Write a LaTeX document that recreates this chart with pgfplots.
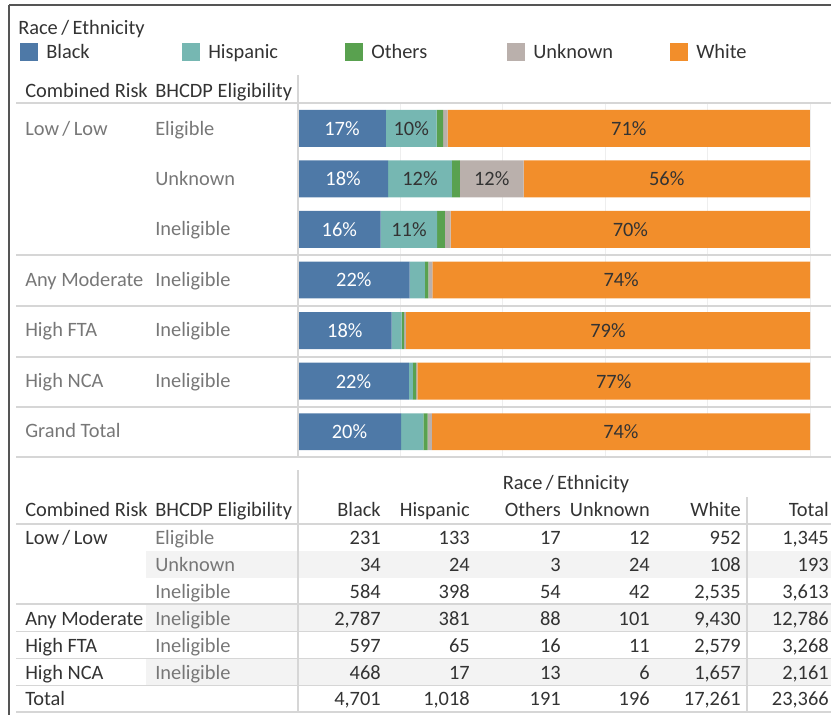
\documentclass[border=0pt]{standalone}
\usepackage{pgfplots}
\pgfplotsset{compat=1.18}
\usepackage{pgfplotstable}
\usepackage{fontspec}
\setmainfont{Carlito}
\definecolor{cBlack}{HTML}{4E79A7}
\definecolor{cHisp}{HTML}{76B7B2}
\definecolor{cOth}{HTML}{59A14F}
\definecolor{cUnk}{HTML}{BAB0AC}
\definecolor{cWhite}{HTML}{F28E2B}
\definecolor{txt}{HTML}{333333}
\definecolor{lbl}{HTML}{777777}
\definecolor{sep}{HTML}{D6D6D6}
\definecolor{gridc}{HTML}{EEEEEE}
\definecolor{band}{HTML}{F3F3F3}
\definecolor{frame}{HTML}{555555}
\newcommand\fs{\fontsize{15.3}{18}\selectfont}

% shares (percent of row total), from the counts in the table
\pgfplotstableread{
row Black Hispanic Others Unknown White
0 17.17 9.89 1.26 0.89 70.78
1 17.62 12.44 1.55 12.44 55.96
2 16.16 11.02 1.49 1.16 70.16
3 21.80 2.98 0.69 0.79 73.75
4 18.27 1.99 0.49 0.34 78.92
5 21.66 0.79 0.60 0.28 76.68
6 20.12 4.36 0.82 0.84 73.87
}\shares

\pgfplotstableread{
row mid pct
0 8.59 17
1 8.81 18
2 8.08 16
3 10.90 22
4 9.14 18
5 10.83 22
6 10.06 20
}\lblW

\pgfplotstableread{
row mid pct
0 22.12 10
0 64.61 71
1 23.83 12
1 37.83 12
1 72.02 56
2 21.67 11
2 64.92 70
3 63.12 74
4 60.54 79
5 61.66 77
6 63.06 74
}\lblD

\newcommand{\trow}[9]{%
  \node[anchor=base west, text=txt] at (25,#1) {#2};
  \node[anchor=base west, text=lbl] at (155,#1) {#3};
  \node[anchor=base east, text=txt] at (381,#1) {#4};
  \node[anchor=base east, text=txt] at (470,#1) {#5};
  \node[anchor=base east, text=txt] at (561,#1) {#6};
  \node[anchor=base east, text=txt] at (650,#1) {#7};
  \node[anchor=base east, text=txt] at (741,#1) {#8};
  \node[anchor=base east, text=txt] at (829,#1) {#9};
}

\begin{document}
\begin{tikzpicture}[font=\fs]
\begin{scope}[x=0.75pt, y=-0.75pt, every node/.style={inner sep=0pt}]
  % frame
  \draw[frame, line width=1.5pt] (9,5) -- (831,5);
  \draw[frame, line width=1.5pt] (9,5) -- (9,715);
  % legend
  \node[anchor=base west, text=txt] at (18,34) {Race\,/\,Ethnicity};
  \foreach \xs/\nm/\cc in {20/Black/cBlack, 182/Hispanic/cHisp, 345/Others/cOth, 507/Unknown/cUnk, 670/White/cWhite}{
    \fill[\cc] (\xs,43) rectangle ++(18,18);
    \node[anchor=base west, text=txt] at (\xs+26,58.5) {\nm};
  }
  % chart headers
  \node[anchor=base west, text=txt] at (25,97.5) {Combined Risk};
  \node[anchor=base west, text=txt] at (155,97.5) {BHCDP Eligibility};
  % table bands
  \fill[band] (146,551) rectangle (831,578);
  \fill[band] (146,604) rectangle (831,631);
  \fill[band] (146,659) rectangle (831,685);
\end{scope}

\begin{axis}[
  at={(223.5pt,-342.75pt)}, anchor=south west,
  scale only axis, width=399.75pt, height=265.5pt,
  xmin=0, xmax=104.1, ymin=-0.5, ymax=6.5, y dir=reverse,
  xbar stacked, bar width=0.73,
  axis line style={draw=none}, major tick length=0pt,
  xtick={0,20,40,60,80,100}, xticklabels={}, ytick=\empty,
  xmajorgrids, grid style={draw=gridc, line width=0.75pt},
]
\addplot[fill=cBlack, draw=none] table[x=Black, y=row]{\shares};
\addplot[fill=cHisp, draw=none] table[x=Hispanic, y=row]{\shares};
\addplot[fill=cOth, draw=none] table[x=Others, y=row]{\shares};
\addplot[fill=cUnk, draw=none] table[x=Unknown, y=row]{\shares};
\addplot[fill=cWhite, draw=none] table[x=White, y=row]{\shares};
\end{axis}

\begin{axis}[
  at={(223.5pt,-342.75pt)}, anchor=south west,
  scale only axis, width=399.75pt, height=265.5pt,
  xmin=0, xmax=104.1, ymin=-0.5, ymax=6.5, y dir=reverse,
  hide axis, clip=false,
]
\addplot[draw=none, nodes near coords={\pgfplotspointmeta\%}, point meta=explicit symbolic,
  every node near coord/.append style={anchor=center, text=white, font=\fs}]
  table[x=mid, y=row, meta=pct]{\lblW};
\addplot[draw=none, nodes near coords={\pgfplotspointmeta\%}, point meta=explicit symbolic,
  every node near coord/.append style={anchor=center, text=txt, font=\fs}]
  table[x=mid, y=row, meta=pct]{\lblD};
\end{axis}

\begin{scope}[x=0.75pt, y=-0.75pt, every node/.style={inner sep=0pt}]
  % chart separators and axis line
  \foreach \yy in {103,255,306,357,407,457}{
    \draw[sep, line width=1.1pt] (16,\yy) -- (831,\yy);
  }
  \draw[sep, line width=1pt] (298,75) -- (298,457);
  % chart row labels
  \node[anchor=base west, text=lbl] at (25,135) {Low\,/\,Low};
  \node[anchor=base west, text=lbl] at (155,135) {Eligible};
  \node[anchor=base west, text=lbl] at (155,185) {Unknown};
  \node[anchor=base west, text=lbl] at (155,235.5) {Ineligible};
  \node[anchor=base west, text=lbl] at (25,286) {Any Moderate};
  \node[anchor=base west, text=lbl] at (155,286) {Ineligible};
  \node[anchor=base west, text=lbl] at (25,336.5) {High FTA};
  \node[anchor=base west, text=lbl] at (155,336.5) {Ineligible};
  \node[anchor=base west, text=lbl] at (25,387) {High NCA};
  \node[anchor=base west, text=lbl] at (155,387) {Ineligible};
  \node[anchor=base west, text=lbl] at (25,437.5) {Grand Total};

  % table lines
  \draw[sep, line width=1pt] (298,470) -- (298,712);
  \draw[sep, line width=1pt] (747,497) -- (747,712);
  \foreach \yy in {524,604,631.5,658.5,685.5,712}{
    \draw[sep, line width=1.1pt] (16,\yy) -- (831,\yy);
  }
  % table header
  \node[anchor=base, text=txt] at (566,489.5) {Race\,/\,Ethnicity};
  \node[anchor=base west, text=txt] at (25,516.5) {Combined Risk};
  \node[anchor=base west, text=txt] at (155,516.5) {BHCDP Eligibility};
  \node[anchor=base east, text=txt] at (381,516.5) {Black};
  \node[anchor=base east, text=txt] at (470,516.5) {Hispanic};
  \node[anchor=base east, text=txt] at (561,516.5) {Others};
  \node[anchor=base east, text=txt] at (650,516.5) {Unknown};
  \node[anchor=base east, text=txt] at (741,516.5) {White};
  \node[anchor=base east, text=txt] at (829,516.5) {Total};
  % table body
  \trow{544}{Low\,/\,Low}{Eligible}{231}{133}{17}{12}{952}{1,345}
  \trow{571}{}{Unknown}{34}{24}{3}{24}{108}{193}
  \trow{598}{}{Ineligible}{584}{398}{54}{42}{2,535}{3,613}
  \trow{625}{Any Moderate}{Ineligible}{2,787}{381}{88}{101}{9,430}{12,786}
  \trow{652}{High FTA}{Ineligible}{597}{65}{16}{11}{2,579}{3,268}
  \trow{679}{High NCA}{Ineligible}{468}{17}{13}{6}{1,657}{2,161}
  \trow{705.5}{Total}{}{4,701}{1,018}{191}{196}{17,261}{23,366}

  \pgfresetboundingbox
  \path[use as bounding box] (0,0) rectangle (831,715);
\end{scope}
\end{tikzpicture}
\end{document}
